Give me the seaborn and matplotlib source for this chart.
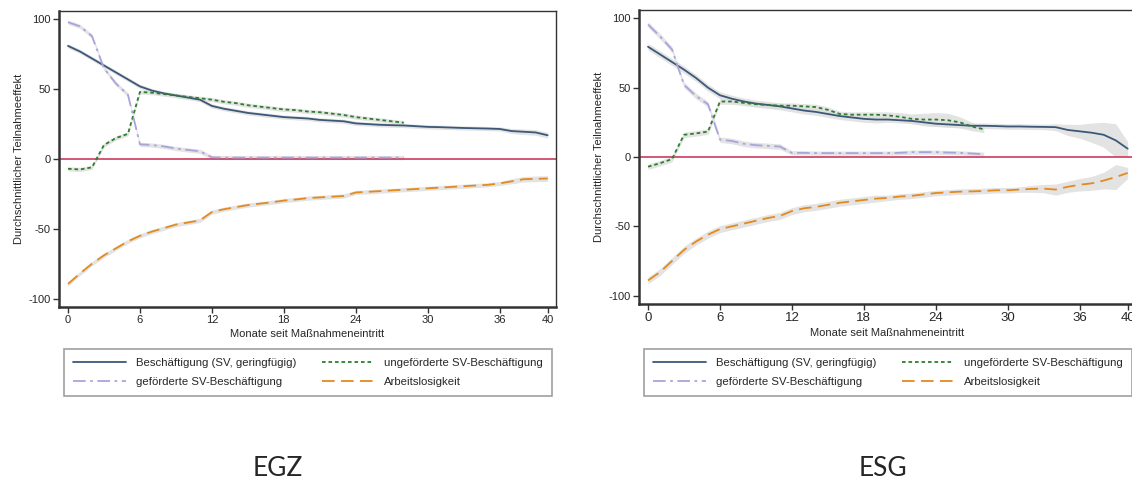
import numpy as np
import pandas as pd
import seaborn as sns
from matplotlib import pyplot as plt
from matplotlib.lines import Line2D

sns.set_style("white")
plt.rcParams['font.family'] = ['Liberation Sans', 'DejaVu Sans']
plt.rcParams['axes.unicode_minus'] = False

months = list(range(41))
months_short = list(range(29))

# EGZ
egz_besch = [81, 77, 72, 67, 62, 57, 52, 49, 47, 45.5, 44, 42.5, 38, 36, 34.5, 33, 32, 31, 30, 29.5,
             29, 28, 27.5, 27, 25.5, 25, 24.5, 24.2, 24, 23.5, 23, 22.8, 22.5, 22.2, 22, 21.8, 21.5,
             20, 19.5, 19, 17]
egz_unge = [-7, -7.5, -6, 10, 15, 18, 48, 47.5, 46.5, 45.5, 44.5, 43.5, 42.5, 41, 40, 38.5, 37.5,
            36.5, 35.5, 35, 34, 33.5, 32.5, 31.5, 30, 29, 28, 27, 26]
egz_gef = [98, 95, 88, 65, 54, 46, 10.5, 10, 9, 7.5, 6.5, 5.5, 1.2, 1, 1, 1, 1, 1, 1, 1, 1, 1, 1,
           1, 1, 1, 1, 1, 1]
egz_alo = [-89.5, -82, -75, -69, -64, -59, -55, -52, -49.5, -47, -45.5, -44, -38, -36, -34.5, -33,
           -32, -31, -29.8, -29, -28, -27.5, -27, -26.5, -24, -23.5, -23, -22.5, -22, -21.5, -21,
           -20.5, -20, -19.5, -19, -18.5, -17.5, -16, -14.5, -14.2, -14]
egz_ci_long = [1.5, 1.5, 1.5, 1.5, 1.5, 1.5, 1.5, 1.5, 1.5, 1.5, 1.5, 1.5, 1.5, 1.5, 1.5, 1.5, 1.5,
               1.5, 1.5, 1.5, 1.5, 1.5, 1.5, 1.5, 1.5, 1.5, 1.5, 1.5, 1.5, 1.5, 1.5, 1.5, 1.5, 1.5,
               1.5, 1.5, 1.5, 1.8, 2, 2, 2]
egz_ci_short = [1.5, 1.5, 1.5, 1.5, 1.5, 1.5, 1.5, 1.5, 1.5, 1.5, 1.5, 1.5, 1.5, 1.5, 1.5, 1.5,
                1.5, 1.5, 1.5, 1.5, 1.5, 1.5, 1.5, 1.5, 1.5, 1.5, 1.5, 1.5, 1.5]

# ESG
esg_besch = [79.5, 74, 68.5, 63, 57, 50, 44.5, 42, 40, 38.5, 37.5, 36.5, 35, 33.5, 32.5, 31, 29.5,
             28.5, 27.5, 27, 27, 26.5, 26, 25, 24, 23.5, 23, 22.5, 22.5, 22.3, 22, 22, 21.8, 21.7,
             21.5, 19.5, 18.5, 17.5, 16, 12, 6]
esg_unge = [-7, -4.5, -1.5, 16, 17, 18.3, 40, 40, 39, 38, 37.5, 37, 37, 36.5, 36, 34, 31, 30.5,
            30.5, 30.5, 30, 29, 27.5, 27, 27, 26.5, 25, 22, 20]
esg_gef = [95.5, 87, 77.5, 52, 44, 38, 12.5, 11.5, 9.5, 8.5, 8, 7.5, 3, 3, 2.8, 2.8, 2.8, 2.8,
           2.8, 2.8, 2.8, 3, 3.5, 3.5, 3.5, 3.2, 3, 2.5, 2]
esg_alo = [-89, -83, -75, -67, -61, -56, -52, -50, -48, -46, -44, -42.5, -39, -37, -36, -34.5,
           -33, -32, -31, -30, -29.5, -28.5, -28, -27, -26, -25.5, -25, -24.8, -24.5, -24, -24,
           -23.5, -23, -22.8, -23.5, -21.5, -20, -19, -17, -14.5, -11.5]
esg_ci_besch = [2.5, 2.5, 2.5, 2.5, 2.5, 2.5, 2.5, 2.5, 2.5, 2.5, 2.5, 2.5, 2.5, 2.5, 2.5, 2.5, 2.5,
                2.5, 2.5, 2.5, 2, 2, 2, 2, 2, 2, 2, 2, 2, 2, 2, 2, 2, 2, 2.5, 4, 5, 7, 9, 12, 5]
esg_ci_alo = [2.5, 2.5, 2.5, 2.5, 2.5, 2.5, 2.5, 2.5, 2.5, 2.5, 2.5, 2.5, 2.5, 2.5, 2.5, 2.5, 2.5,
              2.5, 2.5, 2.5, 2, 2, 2, 2, 2, 2, 2, 2, 2, 2, 2, 2, 2.5, 3, 4, 4, 4.5, 5, 6, 9, 4]
esg_ci_unge = [2, 2, 2, 2, 2, 2, 2, 2, 2, 2, 2, 2, 2, 2, 2, 2, 2, 2, 2, 2, 2.5, 3, 3.5, 4.5, 5,
               5, 4, 3, 2.5]
esg_ci_gef = [2, 2, 2, 2, 2, 2, 2, 2, 2, 2, 2, 2, 1.5, 1.5, 1.5, 1.5, 1.5, 1.5, 1.5, 1.5, 1.5,
              1.5, 1.5, 1.5, 1.5, 1.5, 1.5, 1.5, 1.5]

# legend order: column-major, so row 1 = besch / unge, row 2 = gef / alo
legend_keys = ["besch", "gef", "unge", "alo"]
labels = {"besch": "Beschäftigung (SV, geringfügig)", "unge": "ungeförderte SV-Beschäftigung",
          "gef": "geförderte SV-Beschäftigung", "alo": "Arbeitslosigkeit"}
captions = ["EGZ", "ESG"]

c_besch = "#3b5878"
c_unge = "#2e7d2e"
c_gef = "#aaa4dc"
c_alo = "#e38a1f"
band = "#dcdcdc"

styles = {
    "besch": dict(color=c_besch, linestyle="-", lw=1.3),
    "unge": dict(color=c_unge, linestyle=(0, (2, 1.6)), lw=1.3),
    "gef": dict(color=c_gef, linestyle=(0, (7, 2.5, 1.5, 2.5)), lw=1.3),
    "alo": dict(color=c_alo, linestyle=(0, (7, 3.5)), lw=1.3),
}

fig = plt.figure(figsize=(11.32, 4.82), dpi=100)
axes = [fig.add_axes([0.0521, 0.3631, 0.4391, 0.6141]),
        fig.add_axes([0.5645, 0.3693, 0.4391, 0.6100])]

panels = [
    [("besch", months, egz_besch, egz_ci_long), ("unge", months_short, egz_unge, egz_ci_short),
     ("gef", months_short, egz_gef, egz_ci_short), ("alo", months, egz_alo, egz_ci_long)],
    [("besch", months, esg_besch, esg_ci_besch), ("unge", months_short, esg_unge, esg_ci_unge),
     ("gef", months_short, esg_gef, esg_ci_gef), ("alo", months, esg_alo, esg_ci_alo)],
]

for k, ax in enumerate(axes):
    for key, x, y, ci in panels[k]:
        y = np.array(y, dtype=float)
        ci = np.array(ci, dtype=float)
        ax.fill_between(x, y - ci, y + ci, color=band, alpha=0.8, lw=0, zorder=1)
    ax.axhline(0, color="#c8294f", lw=1.1, zorder=2)
    for key, x, y, ci in panels[k]:
        df = pd.DataFrame({"m": x, "v": y})
        st = styles[key]
        sns.lineplot(data=df, x="m", y="v", ax=ax, color=st["color"], lw=st["lw"],
                     linestyle=st["linestyle"], zorder=3)

    ax.set_xlim(-0.75, 40.7)
    ax.set_ylim(-106, 106)
    ax.set_xticks([0, 6, 12, 18, 24, 30, 36, 40])
    ax.set_yticks([-100, -50, 0, 50, 100])
    ax.tick_params(axis="both", direction="out", length=4, width=1, color="#333333",
                   labelsize=8, pad=2, left=True, bottom=True)
    if k == 1:
        ax.tick_params(axis="x", labelsize=9.5)
    for s in ax.spines.values():
        s.set_color("#333333")
        s.set_linewidth(1.0)
    ax.spines["left"].set_linewidth(1.8)
    ax.spines["bottom"].set_linewidth(1.8)
    ax.set_xlabel("Monate seit Maßnahmeneintritt", fontsize=8, labelpad=3)
    ax.set_ylabel("Durchschnittlicher Teilnahmeeffekt", fontsize=8, labelpad=3)

    handles = [Line2D([], [], **styles[key]) for key in legend_keys]
    leg_x = [64 / 1132, 644 / 1132][k]
    leg = fig.legend(handles, [labels[key] for key in legend_keys], ncol=2, loc="upper left",
                     bbox_to_anchor=(leg_x, 1 - 349 / 482, 488 / 1132, 0), mode="expand",
                     fontsize=8.2, frameon=True, fancybox=False, edgecolor="#888888",
                     handlelength=4.6, columnspacing=2.2, handletextpad=0.9,
                     borderpad=0.8, labelspacing=0.75, borderaxespad=0)
    leg.get_frame().set_linewidth(1.2)

    fig.text([277.5, 883][k] / 1132, 1 - 468.5 / 482, captions[k], fontsize=19,
             family=["Lato", "DejaVu Sans"], ha="center", va="center")

plt.savefig("out.png", dpi=100)
